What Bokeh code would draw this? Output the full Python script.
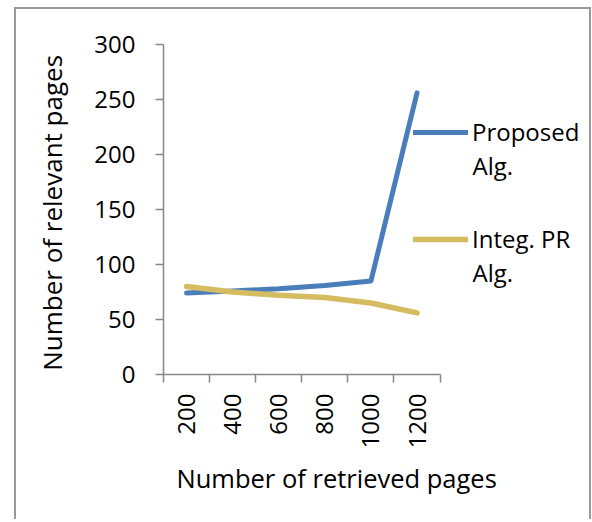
import math
from bokeh.plotting import figure
from bokeh.models import Range1d, FixedTicker, Legend, LegendItem, Title, Label
from bokeh.embed import file_html
from bokeh.resources import INLINE

categories = ["200", "400", "600", "800", "1000", "1200"]
proposed = [74, 76, 78, 81, 85, 256]
integ = [80, 75, 72, 70, 65, 56]
y_ticks = [0, 50, 100, 150, 200, 250, 300]
series_names = [("Proposed", "Alg."), ("Integ. PR", "Alg.")]

FONT = "Open Sans"
AXIS_COLOR = "#878787"
BLUE = "#4a7ebb"
GOLD = "#d6bc60"

n = len(categories)
xs = [i + 0.5 for i in range(n)]

W, H = 573, 510
LEFT, TOP = 147, 35
FRAME_H = 328
BOTTOM = H - TOP - FRAME_H
frame_w = W - LEFT
unit = 274 / n  # px per category

p = figure(width=W, height=H, output_backend="svg", toolbar_location=None,
           x_range=Range1d(0, frame_w / unit), y_range=Range1d(0, 300),
           min_border_left=LEFT, min_border_right=0, min_border_top=TOP,
           min_border_bottom=BOTTOM)
p.outline_line_color = None
p.grid.visible = False
p.background_fill_color = "white"
p.border_fill_color = "white"

r1 = p.line(xs, proposed, line_color=BLUE, line_width=5, line_cap="round", line_join="round")
r2 = p.line(xs, integ, line_color=GOLD, line_width=5.5, line_cap="round", line_join="round")

# x axis
xa = p.xaxis[0]
xa.bounds = (0, n)
xa.ticker = FixedTicker(ticks=xs, minor_ticks=list(range(n + 1)))
xa.major_label_overrides = {x: c for x, c in zip(xs, categories)}
xa.major_tick_line_color = None
xa.major_tick_in = 0
xa.major_tick_out = 8
xa.minor_tick_in = 0
xa.minor_tick_out = 8
xa.minor_tick_line_color = AXIS_COLOR
xa.minor_tick_line_width = 1.5
xa.axis_line_color = AXIS_COLOR
xa.axis_line_width = 1.5
xa.major_label_orientation = math.pi / 2
xa.major_label_standoff = 11
xa.major_label_text_font = FONT
xa.major_label_text_font_size = "24px"
xa.major_label_text_color = "black"

# y axis
ya = p.yaxis[0]
ya.ticker = FixedTicker(ticks=y_ticks)
ya.major_tick_in = 0
ya.major_tick_out = 8
ya.major_tick_line_color = AXIS_COLOR
ya.major_tick_line_width = 1.5
ya.minor_tick_line_color = None
ya.axis_line_color = AXIS_COLOR
ya.axis_line_width = 1.5
ya.major_label_standoff = 20
ya.major_label_text_font = FONT
ya.major_label_text_font_size = "24px"
ya.major_label_text_color = "black"
ya.axis_label = "Number of relevant  pages"
ya.axis_label_text_font = FONT
ya.axis_label_text_font_size = "26px"
ya.axis_label_text_font_style = "normal"
ya.axis_label_text_color = "black"
ya.axis_label_standoff = 21

# x title (offset to the right like the reference)
t = Title(text="Number of retrieved pages", align="left", offset=13,
          text_font=FONT, text_font_size="25.5px", text_font_style="normal",
          text_color="black", standoff=15)
p.add_layout(t, "below")

# legend: one legend per series, second word wrapped below as a label
leg_pos = [(250, 226), (250, 119)]
alg_pos = [(309, 209), (309, 102)]
for r, (first, second), lp, ap in zip([r1, r2], series_names, leg_pos, alg_pos):
    lg = Legend(items=[LegendItem(label=first, renderers=[r])],
                location=lp, label_text_font=FONT, label_text_font_size="24px",
                label_text_color="black", glyph_width=55, glyph_height=30,
                label_height=30, label_standoff=4, padding=0, margin=0,
                border_line_color=None, background_fill_alpha=0)
    p.add_layout(lg)
    p.add_layout(Label(x=ap[0], y=ap[1], x_units="screen", y_units="screen",
                       text=second, text_font=FONT, text_font_size="24px",
                       text_color="black", text_baseline="alphabetic"))

p.styles = {"margin-left": "14px", "margin-top": "7px", "box-sizing": "content-box",
            "border-left": "2px solid #9a9a9a", "border-top": "2px solid #9a9a9a",
            "border-right": "2px solid #9a9a9a"}

open("out.html", "w").write(file_html(p, INLINE))
